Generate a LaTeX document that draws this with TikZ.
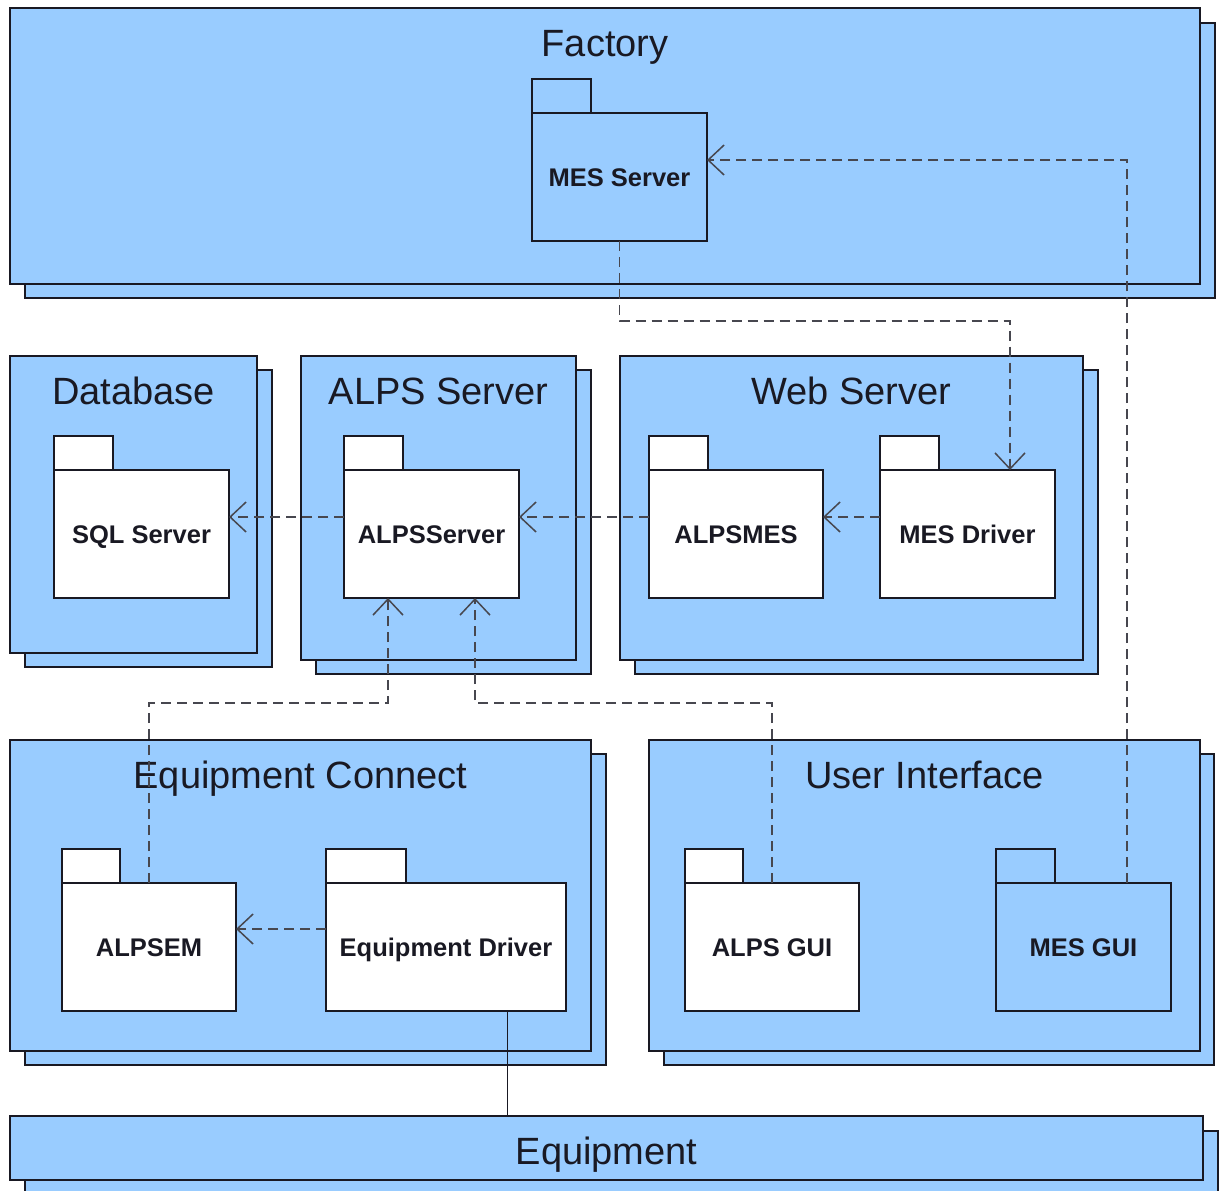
\documentclass[tikz,border=0pt]{standalone}
\usepackage{fontspec}
\setmainfont{Liberation Sans}
\usetikzlibrary{arrows.meta,calc}
\definecolor{pkgblue}{RGB}{153,204,255}
\definecolor{ink}{RGB}{25,25,35}
\begin{document}
\begin{tikzpicture}[x=1pt,y=-1pt,
  cont/.style={draw=ink, line width=2.2pt, fill=pkgblue, inner sep=0pt, outer sep=0pt},
  shadowbox/.style={draw=ink, line width=2.2pt, fill=pkgblue},
  titletext/.style={anchor=base, font=\fontsize{38}{42}\selectfont, text=ink, inner sep=0pt},
  pkg/.style={draw=ink, line width=2.2pt, fill=white, inner sep=0pt, outer sep=0pt,
    minimum width=175pt, minimum height=128pt,
    font=\bfseries\fontsize{25.5}{28}\selectfont, text height=18.3pt, text depth=0pt, text=ink},
  bluepkg/.style={pkg, fill=pkgblue},
  tabbox/.style={draw=ink, line width=2.2pt},
  dep/.style={draw=ink!80, line width=1.5pt, dash pattern=on 10pt off 6pt,
    -{Straight Barb[length=16pt,width=30pt]}},
  link/.style={draw=ink, line width=0.8pt},
]
\useasboundingbox (0,0) rectangle (1219,1191);

% ---------- containers ----------
\draw[shadowbox] (25,23) rectangle (1215,298);
\node[cont, minimum width=1190pt, minimum height=276pt] (factory) at (605,146) {};
\node[titletext] at ([yshift=-48pt]factory.north) {Factory};

\draw[shadowbox] (25,370) rectangle (272,667);
\node[cont, minimum width=247pt, minimum height=297pt] (database) at (133.5,504.5) {};
\node[titletext] at ([yshift=-48pt]database.north) {Database};

\draw[shadowbox] (316,370) rectangle (591,674);
\node[cont, minimum width=275pt, minimum height=304pt] (alpsbox) at (438.5,508) {};
\node[titletext] at ([yshift=-48pt]alpsbox.north) {ALPS Server};

\draw[shadowbox] (635,370) rectangle (1098,674);
\node[cont, minimum width=463pt, minimum height=304pt] (webbox) at (851.5,508) {};
\node[titletext] at ([yshift=-48pt]webbox.north) {Web Server};

\draw[shadowbox] (25,754) rectangle (606,1065);
\node[cont, minimum width=581pt, minimum height=311pt] (eqconn) at (300.5,895.5) {};
\node[titletext] at ([yshift=-48pt]eqconn.north) {Equipment Connect};

\draw[shadowbox] (664,754) rectangle (1214,1065);
\node[cont, minimum width=551pt, minimum height=311pt] (uibox) at (924.5,895.5) {};
\node[titletext] at ([yshift=-48pt]uibox.north) {User Interface};

\draw[shadowbox] (25,1131) rectangle (1218,1200);
\node[cont, minimum width=1193pt, minimum height=64pt] (equip) at (606.5,1148) {};
\node[titletext] at ([yshift=-48pt]equip.north) {Equipment};

% ---------- packages ----------
\node[bluepkg] (messrv) at (619.5,177) {MES Server};
\draw[tabbox, fill=pkgblue] (messrv.north west) rectangle ++(59,-34);

\node[pkg] (sql) at (141.5,534) {SQL Server};
\draw[tabbox, fill=white] (sql.north west) rectangle ++(59,-34);

\node[pkg] (alpssrv) at (431.5,534) {ALPSServer};
\draw[tabbox, fill=white] (alpssrv.north west) rectangle ++(59,-34);

\node[pkg, minimum width=174pt] (alpsmes) at (736,534) {ALPSMES};
\draw[tabbox, fill=white] (alpsmes.north west) rectangle ++(59,-34);

\node[pkg] (mesdrv) at (967.5,534) {MES Driver};
\draw[tabbox, fill=white] (mesdrv.north west) rectangle ++(59,-34);

\node[pkg, minimum width=174pt] (alpsem) at (149,947) {ALPSEM};
\draw[tabbox, fill=white] (alpsem.north west) rectangle ++(58,-34);

\node[pkg, minimum width=240pt] (eqdrv) at (446,947) {Equipment Driver};
\draw[tabbox, fill=white] (eqdrv.north west) rectangle ++(80,-34);

\node[pkg, minimum width=174pt] (alpsgui) at (772,947) {ALPS GUI};
\draw[tabbox, fill=white] (alpsgui.north west) rectangle ++(58,-34);

\node[bluepkg] (mesgui) at (1083.5,947) {MES GUI};
\draw[tabbox, fill=pkgblue] (mesgui.north west) rectangle ++(59,-34);

% ---------- connectors ----------
\draw[dep] ([xshift=43.5pt]mesgui.north) |- ([yshift=17pt]messrv.east);
\draw[dep] (messrv.south) -- ++(0,80) -| ([xshift=42.5pt]mesdrv.north);
\draw[dep] ([yshift=17pt]mesdrv.west) -- ([yshift=17pt]alpsmes.east);
\draw[dep] ([yshift=17pt]alpsmes.west) -- ([yshift=17pt]alpssrv.east);
\draw[dep] ([yshift=17pt]alpssrv.west) -- ([yshift=17pt]sql.east);
\draw[dep] (alpsem.north) -- ++(0,-180) -| ([xshift=-43.5pt]alpssrv.south);
\draw[dep] (alpsgui.north) -- ++(0,-180) -| ([xshift=43.5pt]alpssrv.south);
\draw[dep] ([yshift=18pt]eqdrv.west) -- ([yshift=18pt]alpsem.east);
\coordinate (edb) at ([xshift=61pt]eqdrv.south);
\draw[link] (edb) -- (edb |- equip.north);
\end{tikzpicture}
\end{document}
